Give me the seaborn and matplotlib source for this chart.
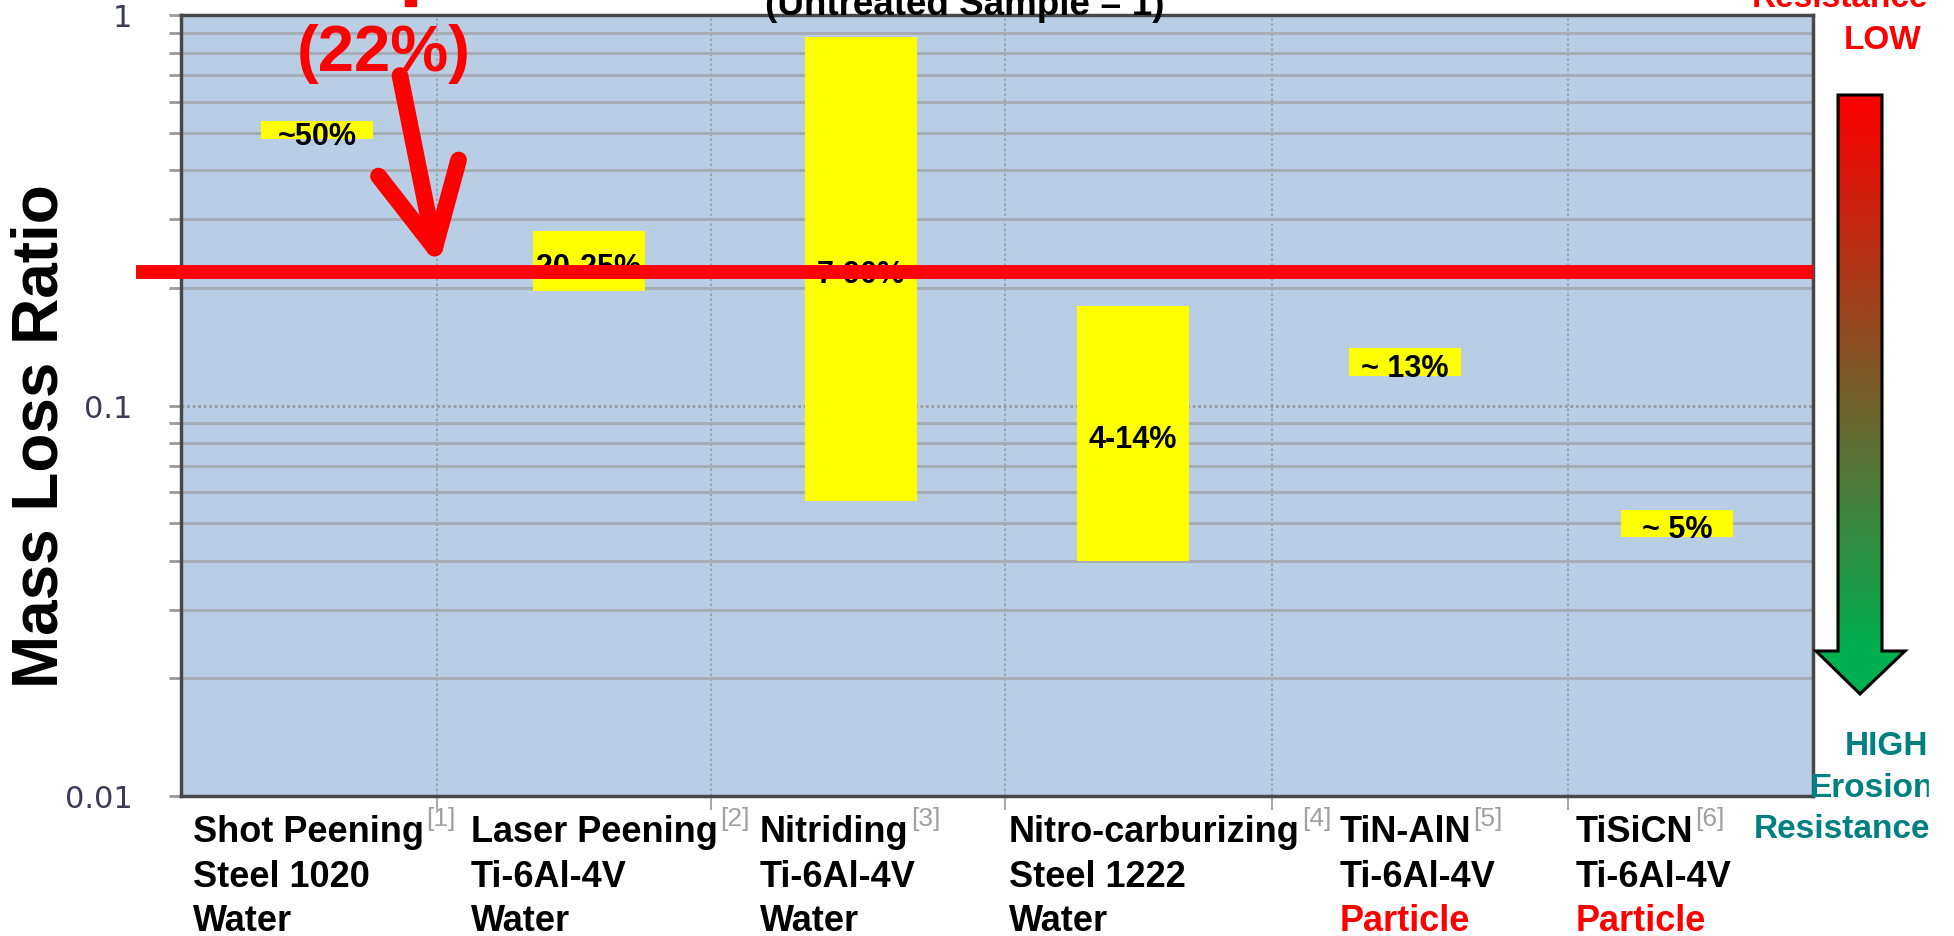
import numpy as np
import pandas as pd
import seaborn as sns
import matplotlib.pyplot as plt
from matplotlib import transforms
from matplotlib.patches import Polygon, Rectangle
from matplotlib.colors import LinearSegmentedColormap
from matplotlib.ticker import LogLocator, NullFormatter

plt.rcParams['font.family'] = ['Liberation Sans', 'DejaVu Sans']

# data
treatments = ["Shot Peening", "Laser Peening", "Nitriding", "Nitro-carburizing", "TiN-AlN", "TiSiCN"]
materials = ["Steel 1020", "Ti-6Al-4V", "Ti-6Al-4V", "Steel 1222", "Ti-6Al-4V", "Ti-6Al-4V"]
media = ["Water", "Water", "Water", "Water", "Particle", "Particle"]
refs = ["[1]", "[2]", "[3]", "[4]", "[5]", "[6]"]
ratio_low = [0.48, 0.196, 0.057, 0.040, 0.119, 0.046]
ratio_high = [0.535, 0.28, 0.88, 0.18, 0.14, 0.054]
range_labels = ["~50%", "20-25%", "7-90%", "4-14%", "~ 13%", "~ 5%"]
threshold = 0.22
threshold_label = "(22%)"
y_ticks = [0.01, 0.1, 1]
y_ticklabels = ["0.01", "0.1", "1"]

df = pd.DataFrame({"treatment": treatments, "low": ratio_low, "high": ratio_high})
df["span"] = df["high"] - df["low"]

# layout (figure pixels, top-down) and category offsets
W, H = 1954, 937
label_x = [-0.456, 0.566, 1.629, 2.544, 3.761, 4.629]
divider_x = [0.44, 1.45, 2.53, 3.51, 4.60]
media_color = {"Water": "black", "Particle": "red"}

fig = plt.figure(figsize=(W / 100, H / 100), dpi=100)
ax = fig.add_axes([181 / W, 1 - 797 / H, (1813 - 181) / W, (797 - 16) / H])
ax.set_facecolor('#B9CDE5')
ax.set_yscale('log')

sns.barplot(data=df, x="treatment", y="span", bottom=df["low"].values, color='#FFFF00',
            saturation=1, width=0.41, errorbar=None, linewidth=0, ax=ax, zorder=2)

ax.set_xlim(-0.5, 5.5)
ax.set_ylim(0.01, 1)
ax.set_xlabel("")
ax.set_ylabel("")
ax.set_xticks([])
ax.set_xticks(divider_x, minor=True)
ax.tick_params(axis='x', which='minor', length=10, width=1.2, color='#9a9a9a', labelbottom=False)
ax.grid(axis='x', which='minor', color='#9a9a9a', linestyle=(0, (1.5, 1.5)), lw=1.2)

ax.set_yticks(y_ticks, y_ticklabels)
ax.yaxis.set_minor_locator(LogLocator(base=10, subs=np.arange(2, 10)))
ax.yaxis.set_minor_formatter(NullFormatter())
ax.tick_params(axis='y', which='both', length=9, width=2, color='#9a9a9a')
ax.tick_params(axis='y', which='major', pad=26, labelsize=22, labelcolor='#3b3b55')
for lbl in ax.get_yticklabels():
    lbl.set_fontfamily('DejaVu Sans')
ax.grid(axis='y', which='minor', color='#a8adb5', lw=2.2)
ax.grid(axis='y', which='major', color='#9a9a9a', lw=2, linestyle=(0, (1, 1)))
ax.set_axisbelow(True)
for side in ax.spines:
    ax.spines[side].set_color('#484848')
    ax.spines[side].set_linewidth(2.5)

# range labels on the bars
for i, (lo, hi, lab) in enumerate(zip(ratio_low, ratio_high, range_labels)):
    ax.annotate(lab, xy=(i, np.sqrt(lo * hi)), xytext=(0, -4), textcoords='offset points',
                ha='center', va='center', fontsize=22, fontweight='bold', zorder=3)

# threshold line + arrow
ax.axhline(threshold, xmin=-0.0276, xmax=1, color='red', lw=10, solid_capstyle='butt',
           clip_on=False, zorder=5)
ax.annotate('', xy=(0.45, threshold), xytext=(0.305, 0.70),
            arrowprops=dict(arrowstyle='->,head_length=4.2,head_width=2.1', color='red', lw=12,
                            mutation_scale=14, shrinkA=0, shrinkB=4,
                            capstyle='round', joinstyle='round'), zorder=6)
ax.text(0.246, 0.80, threshold_label, ha='center', va='center', color='red',
        fontsize=47, fontweight='bold', zorder=6)

# overlay in figure pixels
ov = fig.add_axes([0, 0, 1, 1], zorder=10)
ov.patch.set_alpha(0)
ov.set_xlim(0, W)
ov.set_ylim(H, 0)
ov.set_autoscale_on(False)
ov.axis('off')

ov.text(965, 15, "(Untreated Sample = 1)", ha='center', va='baseline',
        fontsize=26.5, fontweight='bold')
ov.add_patch(Rectangle((405, 0), 11, 7, color='red'))
ov.text(41, 436, "Mass Loss Ratio", rotation=90, ha='center', va='center',
        fontsize=46, fontweight='bold')

# x category labels
blend = transforms.blended_transform_factory(ax.transData, ov.transData)
first_lines = []
for i in range(len(treatments)):
    t1 = ov.text(label_x[i], 842, treatments[i], transform=blend, ha='left', va='baseline',
                 fontsize=26, fontweight='bold')
    ov.text(label_x[i], 887, materials[i], transform=blend, ha='left', va='baseline',
            fontsize=26, fontweight='bold')
    ov.text(label_x[i], 931, media[i], transform=blend, ha='left', va='baseline',
            fontsize=26, fontweight='bold', color=media_color[media[i]])
    first_lines.append(t1)

fig.canvas.draw()
for t1, ref in zip(first_lines, refs):
    bb = t1.get_window_extent()
    ov.text(bb.x1 + 2, 826, ref, ha='left', va='baseline', fontsize=19, color='#a0a0a0')

# erosion resistance arrow on the right
verts = [(1838, 96), (1882, 96), (1882, 652), (1905, 652), (1860, 695), (1816, 652), (1838, 652)]
arrow = Polygon(verts, closed=True, facecolor='none', edgecolor='black', lw=2.2, zorder=4)
ov.add_patch(arrow)
rows = np.linspace(96, 695, 600)
grad = np.clip((rows - 96) / (652 - 96), 0, 1)[:, None]
cmap = LinearSegmentedColormap.from_list('lowhigh', ['#FF0000', '#00B050'])
im = ov.imshow(grad, cmap=cmap, extent=(1816, 1905, 695, 96), aspect='auto', zorder=3)
im.set_clip_path(arrow)
ov.set_xlim(0, W)
ov.set_ylim(H, 0)

ov.text(1928, 7, "Resistance", ha='right', va='baseline', color='red', fontsize=24, fontweight='bold')
ov.text(1883, 49, "LOW", ha='center', va='baseline', color='red', fontsize=24, fontweight='bold')
ov.text(1928, 755, "HIGH", ha='right', va='baseline', color='#008080', fontsize=24, fontweight='bold')
ov.text(1934, 797, "Erosion", ha='right', va='baseline', color='#008080', fontsize=24, fontweight='bold')
ov.text(1930, 838, "Resistance", ha='right', va='baseline', color='#008080', fontsize=24, fontweight='bold')
ov.add_patch(Rectangle((1929, 0), W - 1929, H, color='white', zorder=20))

fig.savefig('out.png', dpi=100)
